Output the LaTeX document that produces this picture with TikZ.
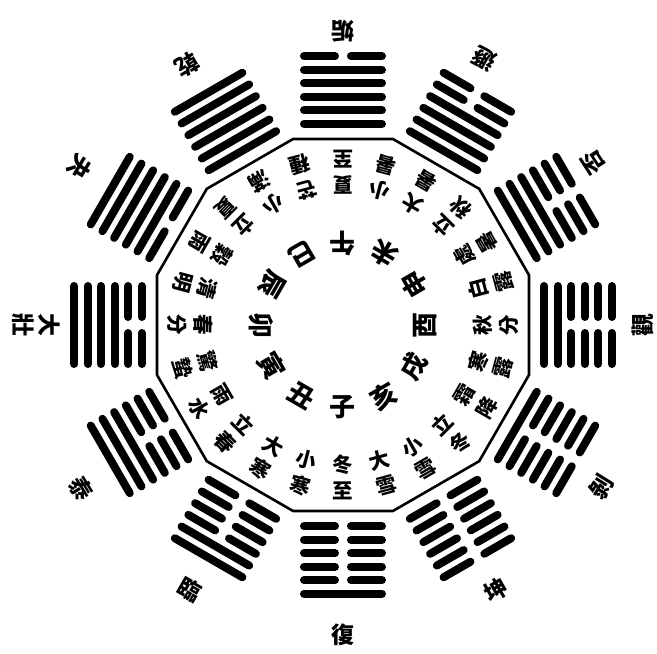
\documentclass[tikz,border=0pt]{standalone}
\usepackage{fontspec}
\setmainfont{Noto Sans CJK TC}
\begin{document}
\begin{tikzpicture}[x=1pt,y=1pt,
  hexline/.style={line width=8pt, line cap=round},
  frame/.style={line width=2.6pt, line join=round},
  term/.style={font=\fontsize{20.5}{20.5}\selectfont\bfseries, inner sep=0pt},
  branch/.style={font=\fontsize{26}{26}\selectfont\bfseries, inner sep=0pt},
  gua/.style={font=\fontsize{23}{23}\selectfont\bfseries, inner sep=0pt}]
\path[use as bounding box] (-343,-329) rectangle (314,325);
% dodecagon frame
\draw[frame] (15:192.6) \foreach \k in {1,...,11}{ -- (15+30*\k:192.6)} -- cycle;
% hexagrams (outermost line = first line)
\foreach \ang/\pat in {270/{1,0,0,0,0,0}, 240/{1,1,0,0,0,0}, 210/{1,1,1,0,0,0},
  180/{1,1,1,1,0,0}, 150/{1,1,1,1,1,0}, 120/{1,1,1,1,1,1}, 90/{0,1,1,1,1,1},
  60/{0,0,1,1,1,1}, 30/{0,0,0,1,1,1}, 0/{0,0,0,0,1,1}, -30/{0,0,0,0,0,1},
  -60/{0,0,0,0,0,0}} {
  \begin{scope}[rotate=\ang]
    \foreach \b [count=\k] in \pat {
      \pgfmathsetmacro\r{235+(3.5-\k)*13.5}
      \ifnum\b=1
        \draw[hexline] (\r,-39) -- (\r,39);
      \else
        \draw[hexline] (\r,-39) -- (\r,-8);
        \draw[hexline] (\r,8) -- (\r,39);
      \fi
    }
  \end{scope}
}
% hexagram names
\foreach \ang/\rad/\lab [count=\n] in {270/310/復, 240/306/臨, 212/309/泰,
  149/307/夬, 121/303/乾, 90/294/姤, 62/301/遯, 33/299/否, 0/300/觀,
  -32/305/剝, -60/306/坤}
  \node[gua, rotate=\ang+90] (g\n) at (\ang:\rad) {\lab};
\node[gua, rotate=270] (gda) at (180:294) {大};
\node[gua, rotate=270] (gzh) at (180:320) {壯};
% earthly branches
\foreach \ang/\ch [count=\n] in {270/子, 240/丑, 210/寅, 180/卯, 150/辰, 120/巳,
  90/午, 60/未, 30/申, 0/酉, -30/戌, -60/亥}
  \node[branch, rotate=\ang+90] (b\n) at (\ang:82) {\ch};
% solar terms
\foreach \a/\b [count=\n from 0] in {冬/至, 小/寒, 大/寒, 立/春, 雨/水, 驚/蟄,
  春/分, 清/明, 穀/雨, 立/夏, 小/滿, 芒/種, 夏/至, 小/暑, 大/暑, 立/秋,
  處/暑, 白/露, 秋/分, 寒/露, 霜/降, 立/冬, 小/雪, 大/雪} {
  \pgfmathsetmacro\ang{270-15*\n}
  \node[term, rotate=\ang+90] (ti\n) at (\ang:140) {\a};
  \node[term, rotate=\ang+90] (to\n) at (\ang:166) {\b};
}
\end{tikzpicture}
\end{document}
